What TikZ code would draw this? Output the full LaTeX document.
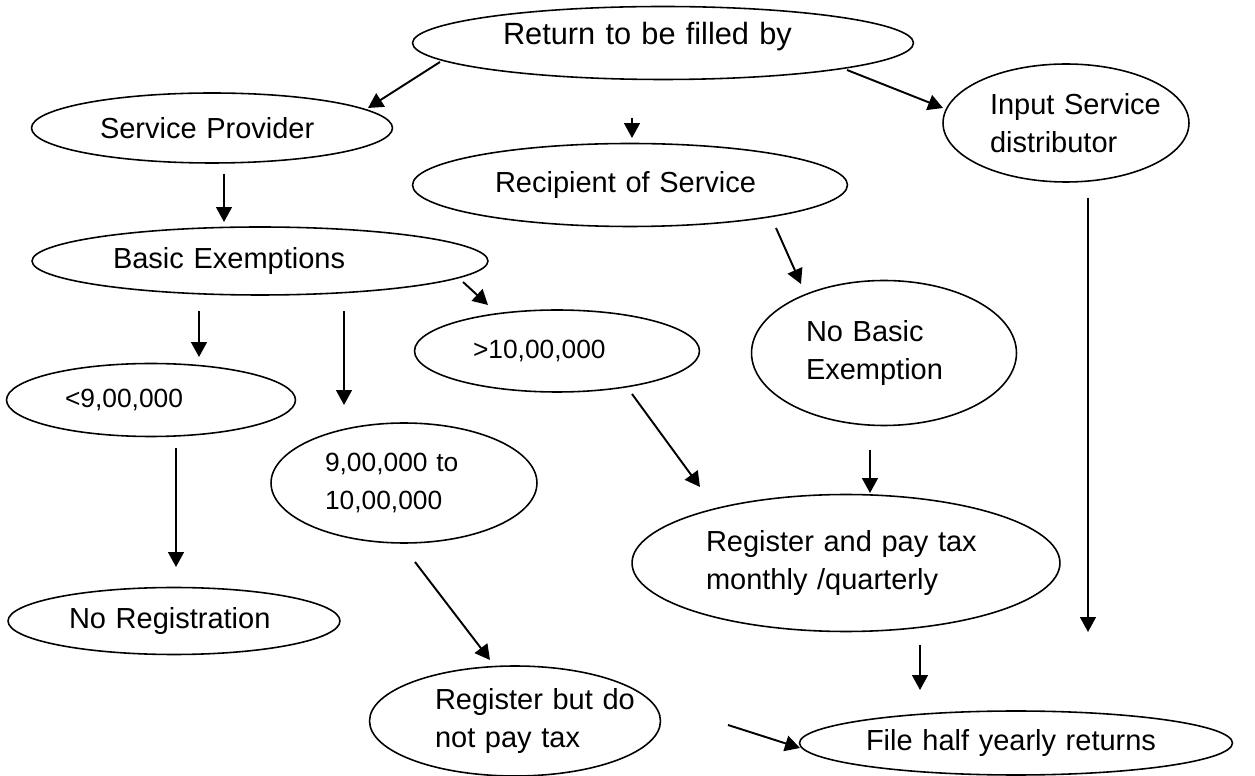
\documentclass[tikz,border=0pt]{standalone}
\usepackage{fontspec}
\setmainfont{Liberation Sans}
\usetikzlibrary{arrows.meta,shapes.geometric}
\newcommand{\ovalfont}{\fontsize{16.5pt}{21.5pt}\selectfont}
\newcommand{\numfont}{\fontsize{15pt}{21.5pt}\selectfont}
\tikzset{
    oval/.style={ellipse, draw, line width=0.9pt, inner sep=0pt,
        align=left, font=\ovalfont},
    num/.style={font=\numfont},
    arrow/.style={-{Triangle[length=8.5pt,width=9pt]}, line width=1.1pt}
}

\begin{document}
\begin{tikzpicture}[x=0.02cm, y=-0.02cm]
    \useasboundingbox (0,0) rectangle (1255,776);
    % ovals
    \node[oval, minimum width=10.02cm, minimum height=1.46cm, text width=6.4cm,
        text depth=0.37cm, font=\fontsize{17.5pt}{21pt}\selectfont] (ret) at (663,43) {Return to be filled by};
    \node[oval, minimum width=7.22cm, minimum height=1.4cm, text width=4.48cm] (sp) at (212,128) {Service Provider};
    \node[oval, minimum width=8.7cm, minimum height=1.66cm, text width=5.4cm] (rec) at (630,185) {Recipient of Service};
    \node[oval, minimum width=4.92cm, minimum height=2.36cm, text width=3.04cm] (inp) at (1066,123) {\mbox{Input Service}\\\mbox{distributor}};
    \node[oval, minimum width=9.12cm, minimum height=1.36cm, text width=5.88cm] (be) at (260,261) {Basic Exemptions};
    \node[oval, num, minimum width=5.7cm, minimum height=1.64cm, text width=3.36cm] (gt) at (557,351) {>10,00,000};
    \node[oval, minimum width=5.3cm, minimum height=2.9cm, text width=3.12cm] (nbe) at (884,353) {No Basic\\Exemption};
    \node[oval, num, minimum width=5.78cm, minimum height=1.46cm, text width=3.44cm] (lt) at (151,400) {<9,00,000};
    \node[oval, num, minimum width=5.32cm, minimum height=2.4cm, text width=3.16cm] (mid) at (404,483) {9,00,000 to\\10,00,000};
    \node[oval, minimum width=8.56cm, minimum height=2.74cm, text width=5.6cm] (reg) at (846,563) {Register and pay tax\\monthly /quarterly};
    \node[oval, minimum width=6.64cm, minimum height=1.34cm, text width=4.2cm] (noreg) at (174,621) {No Registration};
    \node[oval, minimum width=5.82cm, minimum height=2.2cm, text width=3.2cm] (regnp) at (515,721) {\mbox{Register but do}\\\mbox{not pay tax}};
    \node[oval, minimum width=8.66cm, minimum height=1.28cm, text width=6.0cm] (half) at (1016,743) {File half yearly returns};

    % arrow ends
    \coordinate (ret-l) at (440,62);    \coordinate (sp-in) at (368,108);
    \coordinate (ret-c) at (632,118);   \coordinate (rec-in) at (632,138);
    \coordinate (ret-r) at (847,70);    \coordinate (inp-in) at (943,108);
    \coordinate (sp-out) at (224,174);  \coordinate (be-in) at (224,222);
    \coordinate (rec-out) at (776,228); \coordinate (nbe-in) at (801,284);
    \coordinate (inp-out) at (1088,198); \coordinate (half-in1) at (1088,632);
    \coordinate (be-r) at (463,282);    \coordinate (gt-in) at (488,305);
    \coordinate (be-l) at (199,311);    \coordinate (lt-in) at (199,357);
    \coordinate (be-m) at (344,311);    \coordinate (mid-in) at (344,405);
    \coordinate (gt-out) at (632,394);  \coordinate (reg-in1) at (700,487);
    \coordinate (nbe-out) at (870,450); \coordinate (reg-in2) at (870,493);
    \coordinate (lt-out) at (176,448);  \coordinate (noreg-in) at (176,567);
    \coordinate (mid-out) at (415,562); \coordinate (regnp-in) at (490,660);
    \coordinate (reg-out) at (920,645); \coordinate (half-in2) at (920,690);
    \coordinate (regnp-out) at (728,725); \coordinate (half-in3) at (800,748);

    \draw[arrow] (ret-l) -- (sp-in);
    \draw[arrow] (ret-c) -- (rec-in);
    \draw[arrow] (ret-r) -- (inp-in);
    \draw[arrow] (sp-out) -- (be-in);
    \draw[arrow] (rec-out) -- (nbe-in);
    \draw[arrow] (inp-out) -- (half-in1);
    \draw[arrow] (be-r) -- (gt-in);
    \draw[arrow] (be-l) -- (lt-in);
    \draw[arrow] (be-m) -- (mid-in);
    \draw[arrow] (gt-out) -- (reg-in1);
    \draw[arrow] (nbe-out) -- (reg-in2);
    \draw[arrow] (lt-out) -- (noreg-in);
    \draw[arrow] (mid-out) -- (regnp-in);
    \draw[arrow] (reg-out) -- (half-in2);
    \draw[arrow] (regnp-out) -- (half-in3);
\end{tikzpicture}
\end{document}
